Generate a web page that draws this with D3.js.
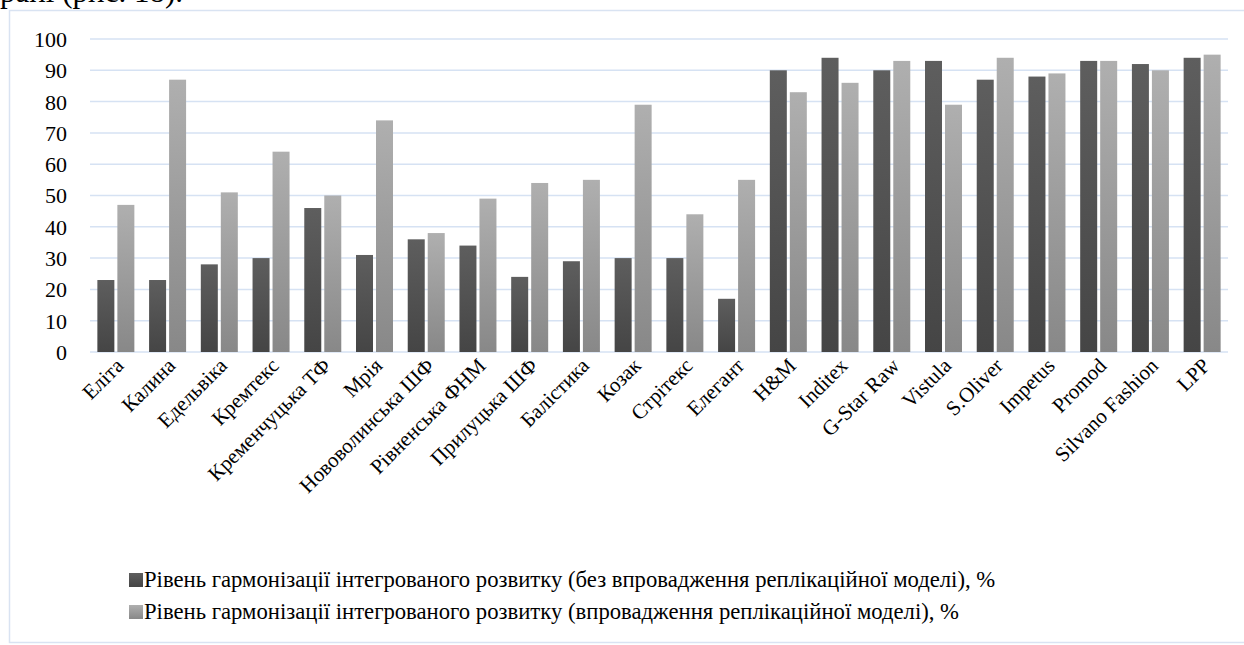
<!DOCTYPE html>
<html>
<head>
<meta charset="utf-8">
<script src="https://cdn.jsdelivr.net/npm/d3@7"></script>
<style>
  html, body { margin: 0; padding: 0; background: #fff; overflow: hidden; }
</style>
</head>
<body>
<svg id="chart" width="1244" height="645"></svg>
<script>
'use strict';

var FONT = '"Liberation Serif", "Times New Roman", serif';

// categories along the x axis
var companies = [
  'Еліта', 'Калина', 'Едельвіка', 'Кремтекс', 'Кременчуцька ТФ', 'Мрія',
  'Нововолинська ШФ', 'Рівненська ФНМ', 'Прилуцька ШФ', 'Балістика', 'Козак',
  'Стрітекс', 'Елегант', 'H&M', 'Inditex', 'G-Star Raw', 'Vistula', 'S.Oliver',
  'Impetus', 'Promod', 'Silvano Fashion', 'LPP'
];

// without the replication model, %
var withoutModel = [23, 23, 28, 30, 46, 31, 36, 34, 24, 29, 30, 30, 17,
                    90, 94, 90, 93, 87, 88, 93, 92, 94];

// with the replication model, %
var withModel = [47, 87, 51, 64, 50, 74, 38, 49, 54, 55, 79, 44, 55,
                 83, 86, 93, 79, 94, 89, 93, 90, 95];

var yTicks = [0, 10, 20, 30, 40, 50, 60, 70, 80, 90, 100];

var seriesNames = [
  'Рівень гармонізації інтегрованого розвитку (без впровадження реплікаційної моделі), %',
  'Рівень гармонізації інтегрованого розвитку (впровадження реплікаційної моделі), %'
];

var svg = d3.select('#chart');
var margin = { left: 90, right: 16, top: 39, bottom: 293 };
var plotW = 1244 - margin.left - margin.right;
var plotH = 645 - margin.top - margin.bottom;

// gradients for the two series (top lighter, bottom darker)
var defs = svg.append('defs');
var gradStops = [['#5e5e5e', '#454545'], ['#afafaf', '#888888']];
gradStops.forEach(function (c, i) {
  var g = defs.append('linearGradient')
    .attr('id', 'grad' + i)
    .attr('x1', 0).attr('y1', 0).attr('x2', 0).attr('y2', 1);
  g.append('stop').attr('offset', '0%').attr('stop-color', c[0]);
  g.append('stop').attr('offset', '100%').attr('stop-color', c[1]);
});

// page text above the chart, cut off by the top edge
svg.append('text')
  .attr('x', 0).attr('y', 2)
  .style('font-family', FONT)
  .style('font-size', '31px')
  .text('рані (рис. 18).');

// chart frame
svg.append('rect')
  .attr('x', 9.5).attr('y', 10.5)
  .attr('width', 1250).attr('height', 632)
  .attr('fill', 'none')
  .attr('stroke', '#d9e3f2')
  .attr('stroke-width', 1.5);

var g = svg.append('g')
  .attr('transform', 'translate(' + margin.left + ',' + margin.top + ')');

var x = d3.scaleBand().domain(companies).range([0, plotW]).padding(0);
var y = d3.scaleLinear().domain([0, 100]).range([plotH, 0]);

// grid lines
g.append('g').selectAll('line')
  .data(yTicks)
  .join('line')
  .attr('x1', 0).attr('x2', plotW)
  .attr('y1', function (d) { return y(d); })
  .attr('y2', function (d) { return y(d); })
  .attr('stroke', '#d6e2f3')
  .attr('stroke-width', 1.5);

// y axis labels
var yAxis = d3.axisLeft(y).tickValues(yTicks).tickSize(0).tickPadding(23);
g.append('g').call(yAxis)
  .attr('font-family', null)
  .call(function (a) { a.select('.domain').remove(); })
  .selectAll('text')
  .style('font-family', FONT)
  .style('font-size', '22px')
  .style('fill', '#000')
  .attr('dy', '0.34em');

// bars
var barW = 17, barGap = 3;
var inner = d3.scaleBand().domain([0, 1]).range([0, 2 * barW + barGap]).paddingInner(barGap / (barW + barGap));
var series = [withoutModel, withModel];

series.forEach(function (vals, si) {
  g.append('g').selectAll('rect')
    .data(vals)
    .join('rect')
    .attr('x', function (d, i) {
      return x(companies[i]) + x.bandwidth() / 2 - (2 * barW + barGap) / 2 + inner(si);
    })
    .attr('y', function (d) { return y(d); })
    .attr('width', inner.bandwidth())
    .attr('height', function (d) { return plotH - y(d); })
    .attr('fill', 'url(#grad' + si + ')');
});

// x axis labels, rotated
var xAxis = d3.axisBottom(x).tickSize(0).tickPadding(0);
g.append('g')
  .attr('transform', 'translate(0,' + plotH + ')')
  .call(xAxis)
  .attr('font-family', null)
  .call(function (a) { a.select('.domain').remove(); })
  .selectAll('text')
  .style('font-family', FONT)
  .style('font-size', '21px')
  .style('fill', '#000')
  .attr('text-anchor', 'end')
  .attr('dy', null)
  .attr('y', 0)
  .attr('transform', 'translate(9,15) rotate(-45)');

// legend
var legend = svg.append('g').attr('transform', 'translate(129,573)');
seriesNames.forEach(function (name, i) {
  var row = legend.append('g').attr('transform', 'translate(0,' + (i * 32) + ')');
  row.append('rect')
    .attr('width', 14).attr('height', 14)
    .attr('fill', 'url(#grad' + i + ')');
  row.append('text')
    .attr('x', 15).attr('y', 14)
    .style('font-family', FONT)
    .style('font-size', '22.7px')
    .style('fill', '#000')
    .text(name);
});
</script>
</body>
</html>
